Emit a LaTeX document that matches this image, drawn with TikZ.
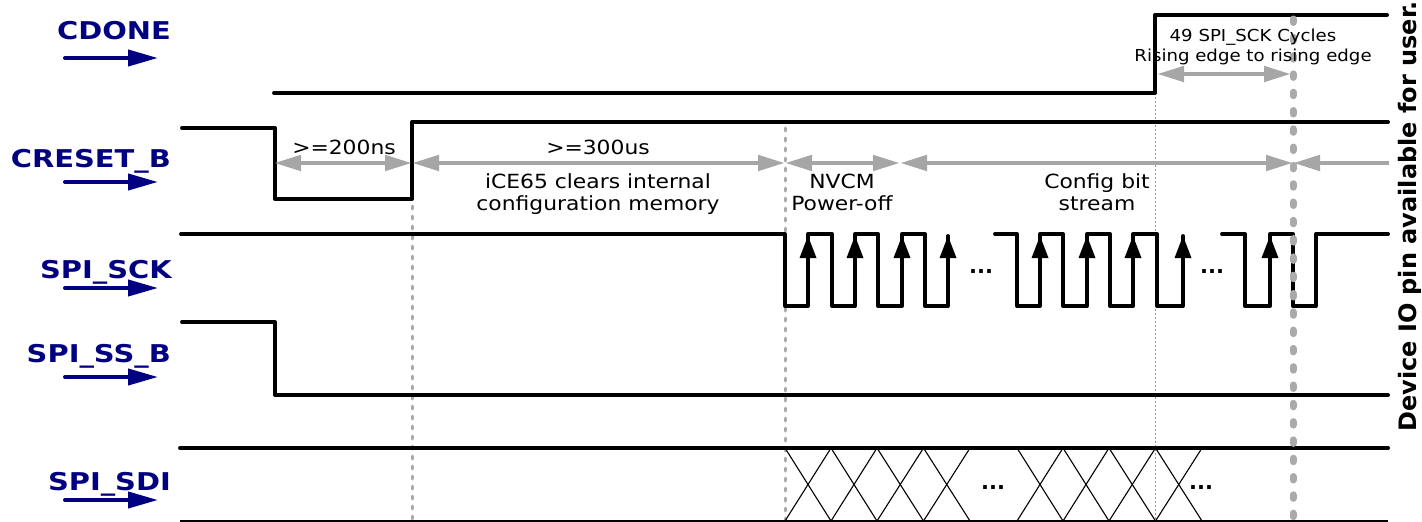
\documentclass[tikz,border=0pt]{standalone}
\usepackage{fontspec}
\setmainfont{DejaVu Sans}
\newfontfamily\lblfont{DejaVu Sans}[FakeStretch=1.18]
\newfontfamily\notefont{DejaVu Sans}[FakeStretch=1.12]
\newfontfamily\smallfont{DejaVu Sans}[FakeStretch=1.1]
\newfontfamily\sidefont{DejaVu Sans}
\usetikzlibrary{arrows.meta}
\definecolor{navy}{RGB}{0,0,128}
\definecolor{dimgray}{RGB}{166,166,166}
\definecolor{dotgray}{RGB}{170,170,170}
\definecolor{thingray}{RGB}{150,150,150}
\begin{document}
\begin{tikzpicture}[x=1pt,y=-1pt,
  wave/.style={line width=3.9pt, line join=round, line cap=round},
  xline/.style={line width=1.1pt},
  sig/.style={font=\lblfont\bfseries\fontsize{24.5}{28}\selectfont, text=navy, anchor=base east, inner sep=0pt},
  sigarrow/.style={navy, line width=4pt, line cap=round, -{Triangle[length=30pt,width=16pt]}},
  dimline/.style={dimgray, line width=4.8pt, {Triangle[length=27pt,width=15pt]}-{Triangle[length=27pt,width=15pt]}},
  dimone/.style={dimgray, line width=4.8pt, -{Triangle[length=27pt,width=15pt]}},
  note/.style={font=\notefont\fontsize{19.5}{22}\selectfont, anchor=base, inner sep=0pt},
  smallnote/.style={font=\smallfont\fontsize{16.5}{18}\selectfont, anchor=base, inner sep=0pt},
  dots/.style={font=\sidefont\bfseries\fontsize{21}{22}\selectfont, anchor=base, inner sep=0pt},
  dotline/.style={dotgray, line width=3pt, line cap=round, dash pattern=on 3pt off 7pt},
  thickdot/.style={dotgray, line width=7pt, line cap=round, dash pattern=on 3.5pt off 14.8pt},
  thindot/.style={thingray, line width=0.9pt, dash pattern=on 2pt off 2pt},
  edgearrow/.style={fill=black}
]
\useasboundingbox (0,0) rectangle (1422,522);

% ---------- signal labels ----------
\node[sig] (lcdone) at (171,39) {CDONE};
\node[sig] (lcreset) at (171,167) {CRESET\_B};
\node[sig] (lsck) at (172,278) {SPI\_SCK};
\node[sig] (lss) at (171,362) {SPI\_SS\_B};
\node[sig] (lsdi) at (171,490) {SPI\_SDI};

\coordinate (a1s) at (65,58);  \coordinate (a1e) at (158,58);
\coordinate (a2s) at (65,182); \coordinate (a2e) at (158,182);
\coordinate (a3s) at (65,288); \coordinate (a3e) at (158,288);
\coordinate (a4s) at (65,377); \coordinate (a4e) at (158,377);
\coordinate (a5s) at (65,500); \coordinate (a5e) at (158,500);
\draw[sigarrow] (a1s) -- (a1e);
\draw[sigarrow] (a2s) -- (a2e);
\draw[sigarrow] (a3s) -- (a3e);
\draw[sigarrow] (a4s) -- (a4e);
\draw[sigarrow] (a5s) -- (a5e);

% ---------- thin guide lines (behind) ----------
\coordinate (g1t) at (412,206); \coordinate (g1b) at (412,522);
\coordinate (g2t) at (785,128); \coordinate (g2b) at (785,522);
\coordinate (g3t) at (1155,97); \coordinate (g3b) at (1155,522);
\draw[dotline] (g1t) -- (g1b);
\draw[dotline] (g2t) -- (g2b);
\draw[thindot] (g3t) -- (g3b);

% ---------- waveforms ----------
% CDONE
\draw[wave] (274,93) -- (1155,93) -- (1155,15) -- (1387,15);
% CRESET_B
\draw[wave] (182,128) -- (275,128) -- (275,199) -- (412,199) -- (412,122) -- (1388,122);
% SPI_SCK
\draw[wave] (181,234) -- (785,234) -- (785,306) -- (808,306) -- (808,234) -- (832,234)
  -- (832,306) -- (855,306) -- (855,234) -- (878,234) -- (878,306) -- (902,306)
  -- (902,234) -- (925,234) -- (925,306) -- (948,306) -- (948,236);
\draw[wave] (995,234) -- (1017,234) -- (1017,306) -- (1040,306) -- (1040,234) -- (1063,234)
  -- (1063,306) -- (1087,306) -- (1087,234) -- (1110,234) -- (1110,306) -- (1133,306)
  -- (1133,234) -- (1157,234) -- (1157,306) -- (1183,306) -- (1183,236);
\draw[wave] (1222,234) -- (1245,234) -- (1245,306) -- (1270,306) -- (1270,234) -- (1293,234)
  -- (1293,306) -- (1316,306) -- (1316,234) -- (1388,234);
\foreach \ex in {808,855,902,948,1040,1087,1133,1183,1270}{
  \fill[edgearrow] (\ex-8.5,258) -- (\ex,236) -- (\ex+8.5,258) -- cycle;
}
\node[dots] (sckd1) at (981,273) {...};
\node[dots] (sckd2) at (1212,273) {...};
% SPI_SS_B
\draw[wave] (182,322) -- (275,322) -- (275,395) -- (1388,395);
% SPI_SDI
\draw[wave] (180,448) -- (1388,448);
\draw[line width=2pt] (180,521) -- (1388,521);
\foreach \a/\b in {785/831, 831/877, 877/923.5, 923.5/970, 1017/1063, 1063/1109, 1109/1155.5, 1155.5/1202}{
  \draw[xline] (\a,448) -- (\b,521);
  \draw[xline] (\a,521) -- (\b,448);
}
\node[dots] (sdid1) at (993,489) {...};
\node[dots] (sdid2) at (1201,489) {...};

% ---------- thick guide line (front) ----------
\coordinate (g4t) at (1293,19); \coordinate (g4b) at (1293,522);
\draw[thickdot] (g4t) -- (g4b);

% ---------- dimension arrows ----------
\coordinate (d0) at (274,163);
\coordinate (d1) at (412,163);
\coordinate (d2) at (785,163);
\coordinate (d3) at (900,163);
\coordinate (d4) at (1293,163);
\coordinate (d5) at (1389,163);
\draw[dimline] (d0) -- (d1);
\draw[dimline] (d1) -- (d2);
\draw[dimline] (d2) -- (d3);
\draw[dimline] (d3) -- (d4);
\draw[dimone] (d5) -- (d4);
\coordinate (e0) at (1157,74);
\coordinate (e1) at (1291,74);
\draw[dimline] (e0) -- (e1);

% ---------- annotation texts ----------
\node[note] (t200) at (344,154) {>=200ns};
\node[note] (t300) at (598,154) {>=300us};
\node[note] (tclr1) at (598,188) {iCE65 clears internal};
\node[note] (tclr2) at (598,210) {configuration memory};
\node[note] (tnv1) at (842,188) {NVCM};
\node[note] (tnv2) at (842,210) {Power-off};
\node[note] (tcf1) at (1097,188) {Config bit};
\node[note] (tcf2) at (1097,210) {stream};
\node[smallnote] (t49a) at (1253,41) {49 SPI\_SCK Cycles};
\node[smallnote] (t49b) at (1253,61) {Rising edge to rising edge};

% ---------- side text ----------
\node[rotate=90, anchor=base west, inner sep=0pt, font=\sidefont\bfseries\fontsize{24}{28}\selectfont] (side) at (1416,432) {Device IO pin available for user.};
\end{tikzpicture}
\end{document}
